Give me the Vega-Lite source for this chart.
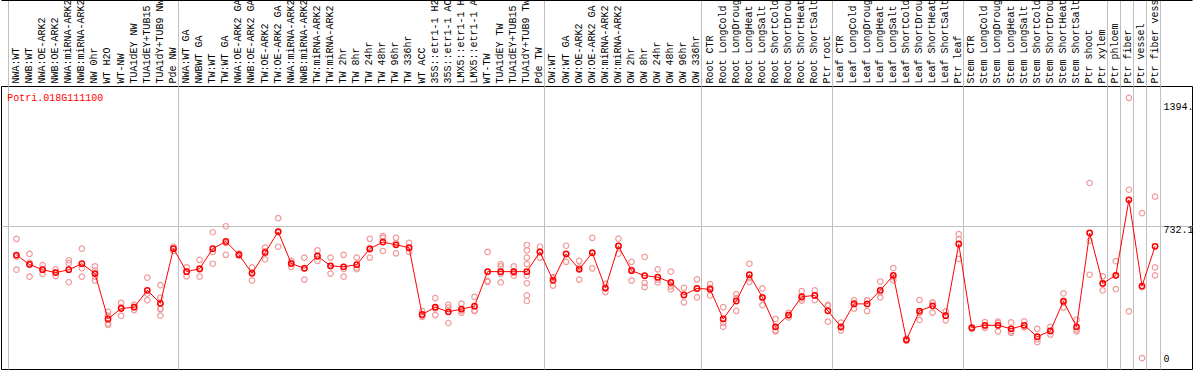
{
  "$schema": "https://vega.github.io/schema/vega-lite/v6.json",
  "width": 1191,
  "height": 283,
  "autosize": {"type": "none"},
  "padding": {"left": 1, "top": 86, "right": 2, "bottom": 1},
  "background": "white",
  "config": {"view": {"stroke": "black", "strokeWidth": 1}, "font": "Liberation Mono"},
  "data": {"values": [
    {"s": "01 NWA:WT", "m": 580, "r": [664, 572, 504]},
    {"s": "02 NWB:WT", "m": 531, "r": [586, 539, 468]},
    {"s": "03 NWA:OE-ARK2", "m": 504, "r": [528, 503, 482]},
    {"s": "04 NWB:OE-ARK2", "m": 489, "r": [506, 490, 471]},
    {"s": "05 NWA:miRNA-ARK2", "m": 504, "r": [553, 538, 439]},
    {"s": "06 NWB:miRNA-ARK2", "m": 535, "r": [613, 512, 468]},
    {"s": "07 NW 0hr", "m": 484, "r": [521, 500, 468, 448]},
    {"s": "08 WT H2O", "m": 249, "r": [286, 266, 226, 218]},
    {"s": "09 WT-NW", "m": 303, "r": [332, 310, 266]},
    {"s": "10 TUA1dEY NW", "m": 310, "r": [323, 312, 295]},
    {"s": "11 TUA1dEY+TUB15", "m": 397, "r": [463, 380, 346]},
    {"s": "12 TUA1dY+TUB9 NW", "m": 330, "r": [424, 359, 330, 303, 266, 300]},
    {"s": "13 Pde NW", "m": 613, "r": [623, 613, 601]},
    {"s": "14 NWA:WT GA", "m": 494, "r": [516, 495, 470]},
    {"s": "15 NWBWT GA", "m": 509, "r": [555, 505, 468]},
    {"s": "16 TW:WT", "m": 613, "r": [698, 596, 535]},
    {"s": "17 TW:WT GA", "m": 650, "r": [729, 642, 581]},
    {"s": "18 NWA:OE-ARK2 GA", "m": 582, "r": [587, 582, 575]},
    {"s": "19 NWB:OE-ARK2 GA", "m": 485, "r": [516, 490, 448]},
    {"s": "20 TW:OE-ARK2", "m": 592, "r": [618, 600, 558]},
    {"s": "21 TW:OE-ARK2 GA", "m": 700, "r": [771, 705, 623]},
    {"s": "22 NWA:miRNA-ARK2", "m": 536, "r": [550, 539, 519]},
    {"s": "23 NWB:miRNA-ARK2", "m": 511, "r": [567, 512, 453]},
    {"s": "24 TW:miRNA-ARK2", "m": 575, "r": [604, 572, 550]},
    {"s": "25 TW:miRNA-ARK2", "m": 524, "r": [567, 522, 484]},
    {"s": "26 TW 2hr", "m": 519, "r": [581, 508, 468]},
    {"s": "27 TW 8hr", "m": 530, "r": [567, 516, 507]},
    {"s": "28 TW 24hr", "m": 613, "r": [664, 608, 567]},
    {"s": "29 TW 48hr", "m": 647, "r": [678, 669, 601]},
    {"s": "30 TW 96hr", "m": 633, "r": [669, 642, 589]},
    {"s": "31 TW 336hr", "m": 618, "r": [643, 615, 596]},
    {"s": "32 WT ACC", "m": 272, "r": [290, 266, 260]},
    {"s": "33 35S::etr1-1 H2", "m": 310, "r": [357, 304, 269]},
    {"s": "34 35S::etr1-1 AC", "m": 286, "r": [322, 308, 228]},
    {"s": "35 LMX5::etr1-1 H", "m": 300, "r": [328, 292, 281]},
    {"s": "36 LMX5::etr1-1 A", "m": 315, "r": [363, 293, 290]},
    {"s": "37 WT-TW", "m": 494, "r": [596, 445, 441]},
    {"s": "38 TUA1dEY TW", "m": 494, "r": [533, 521, 484, 438]},
    {"s": "39 TUA1dEY+TUB15", "m": 494, "r": [521, 494, 488, 473]},
    {"s": "40 TUA1dY+TUB9 TW", "m": 494, "r": [632, 604, 567, 533, 473, 434, 371, 342]},
    {"s": "41 Pde TW", "m": 596, "r": [623, 598, 567]},
    {"s": "42 OW:WT", "m": 449, "r": [465, 460, 422]},
    {"s": "43 OW:WT GA", "m": 586, "r": [628, 585, 545]},
    {"s": "44 OW:OE-ARK2", "m": 506, "r": [550, 515, 453]},
    {"s": "45 OW:OE-ARK2 GA", "m": 591, "r": [669, 594, 511]},
    {"s": "46 OW:miRNA-ARK2", "m": 409, "r": [431, 408, 388]},
    {"s": "47 OW:miRNA-ARK2", "m": 627, "r": [665, 628, 587]},
    {"s": "48 OW 2hr", "m": 499, "r": [545, 505, 448]},
    {"s": "49 OW 8hr", "m": 473, "r": [570, 436, 414]},
    {"s": "50 OW 24hr", "m": 465, "r": [506, 452, 438]},
    {"s": "51 OW 48hr", "m": 438, "r": [494, 418, 402]},
    {"s": "52 OW 96hr", "m": 373, "r": [410, 373, 335]},
    {"s": "53 OW 336hr", "m": 407, "r": [454, 406, 361]},
    {"s": "54 Root CTR", "m": 403, "r": [429, 410, 371]},
    {"s": "55 Root LongCold", "m": 249, "r": [310, 228, 209]},
    {"s": "56 Root LongDroug", "m": 342, "r": [378, 357, 291]},
    {"s": "57 Root LongHeat", "m": 478, "r": [535, 460, 441]},
    {"s": "58 Root LongSalt", "m": 361, "r": [407, 356, 320]},
    {"s": "59 Root ShortCold", "m": 208, "r": [249, 190, 185]},
    {"s": "60 Root ShortDrou", "m": 269, "r": [281, 269, 257]},
    {"s": "61 Root ShortHeat", "m": 364, "r": [393, 356, 344]},
    {"s": "62 Root ShortSalt", "m": 371, "r": [397, 370, 346]},
    {"s": "63 Ptr root", "m": 291, "r": [322, 316, 235]},
    {"s": "64 Leaf CTR", "m": 208, "r": [230, 205, 189]},
    {"s": "65 Leaf LongCold", "m": 327, "r": [346, 332, 303]},
    {"s": "66 Leaf LongDroug", "m": 327, "r": [346, 345, 290]},
    {"s": "67 Leaf LongHeat", "m": 397, "r": [443, 387, 361]},
    {"s": "68 Leaf LongSalt", "m": 475, "r": [512, 464, 449]},
    {"s": "69 Leaf ShortCold", "m": 141, "r": [147, 141, 135]},
    {"s": "70 Leaf ShortDrou", "m": 290, "r": [347, 280, 244]},
    {"s": "71 Leaf ShortHeat", "m": 317, "r": [335, 333, 282]},
    {"s": "72 Leaf ShortSalt", "m": 266, "r": [288, 268, 242]},
    {"s": "73 Ptr leaf", "m": 637, "r": [688, 662, 560]},
    {"s": "74 Stem CTR", "m": 203, "r": [206, 205, 198]},
    {"s": "75 Stem LongCold", "m": 216, "r": [233, 213, 203]},
    {"s": "76 Stem LongDroug", "m": 216, "r": [235, 228, 185]},
    {"s": "77 Stem LongHeat", "m": 198, "r": [231, 186, 177]},
    {"s": "78 Stem LongSalt", "m": 216, "r": [236, 206, 206]},
    {"s": "79 Stem ShortCold", "m": 157, "r": [198, 144, 129]},
    {"s": "80 Stem ShortDrou", "m": 187, "r": [208, 186, 168]},
    {"s": "81 Stem ShortHeat", "m": 341, "r": [381, 334, 308]},
    {"s": "82 Stem ShortSalt", "m": 208, "r": [245, 194, 185]},
    {"s": "83 Ptr shoot", "m": 694, "r": [953, 654, 478]},
    {"s": "84 Ptr xylem", "m": 433, "r": [470, 433, 397]},
    {"s": "85 Ptr phloem", "m": 475, "r": [548, 475, 403]},
    {"s": "86 Ptr fiber", "m": 866, "r": [1394, 918, 288]},
    {"s": "87 Ptr vessel", "m": 419, "r": [797, 414, 46]},
    {"s": "88 Ptr fiber vess", "m": 625, "r": [883, 516, 475]}
  ]},
  "encoding": {
    "x": {
      "field": "s", "type": "nominal", "bandPosition": 0.62,
      "scale": {
        "type": "band",
        "domain": ["01 NWA:WT", "02 NWB:WT", "03 NWA:OE-ARK2", "04 NWB:OE-ARK2", "05 NWA:miRNA-ARK2", "06 NWB:miRNA-ARK2", "07 NW 0hr", "08 WT H2O", "09 WT-NW", "10 TUA1dEY NW", "11 TUA1dEY+TUB15", "12 TUA1dY+TUB9 NW", "13 Pde NW", "14 NWA:WT GA", "15 NWBWT GA", "16 TW:WT", "17 TW:WT GA", "18 NWA:OE-ARK2 GA", "19 NWB:OE-ARK2 GA", "20 TW:OE-ARK2", "21 TW:OE-ARK2 GA", "22 NWA:miRNA-ARK2", "23 NWB:miRNA-ARK2", "24 TW:miRNA-ARK2", "25 TW:miRNA-ARK2", "26 TW 2hr", "27 TW 8hr", "28 TW 24hr", "29 TW 48hr", "30 TW 96hr", "31 TW 336hr", "32 WT ACC", "33 35S::etr1-1 H2", "34 35S::etr1-1 AC", "35 LMX5::etr1-1 H", "36 LMX5::etr1-1 A", "37 WT-TW", "38 TUA1dEY TW", "39 TUA1dEY+TUB15", "40 TUA1dY+TUB9 TW", "41 Pde TW", "42 OW:WT", "43 OW:WT GA", "44 OW:OE-ARK2", "45 OW:OE-ARK2 GA", "46 OW:miRNA-ARK2", "47 OW:miRNA-ARK2", "48 OW 2hr", "49 OW 8hr", "50 OW 24hr", "51 OW 48hr", "52 OW 96hr", "53 OW 336hr", "54 Root CTR", "55 Root LongCold", "56 Root LongDroug", "57 Root LongHeat", "58 Root LongSalt", "59 Root ShortCold", "60 Root ShortDrou", "61 Root ShortHeat", "62 Root ShortSalt", "63 Ptr root", "64 Leaf CTR", "65 Leaf LongCold", "66 Leaf LongDroug", "67 Leaf LongHeat", "68 Leaf LongSalt", "69 Leaf ShortCold", "70 Leaf ShortDrou", "71 Leaf ShortHeat", "72 Leaf ShortSalt", "73 Ptr leaf", "74 Stem CTR", "75 Stem LongCold", "76 Stem LongDroug", "77 Stem LongHeat", "78 Stem LongSalt", "79 Stem ShortCold", "80 Stem ShortDrou", "81 Stem ShortHeat", "82 Stem ShortSalt", "83 Ptr shoot", "84 Ptr xylem", "85 Ptr phloem", "86 Ptr fiber", "87 Ptr vessel", "88 Ptr fiber vess", "89 "],
        "paddingInner": 0, "paddingOuter": 1.2376, "align": 0.2795, "round": false
      },
      "axis": {
        "orient": "top", "offset": 86, "title": null,
        "domain": true, "domainColor": "black", "domainWidth": 1,
        "ticks": true, "tickSize": -86, "tickWidth": 1, "bandPosition": 0,
        "tickColor": {"condition": {"test": "indexof(['01','14','42','54','64','74','85','86','87','88','89'], substring(datum.value, 0, 2)) >= 0", "value": "#c0c0c0"}, "value": "transparent"},
        "grid": true, "gridWidth": 1,
        "gridColor": {"condition": {"test": "indexof(['01','14','42','54','64','74','85','86','87','88','89'], substring(datum.value, 0, 2)) >= 0", "value": "#c0c0c0"}, "value": "transparent"},
        "labelExpr": "substring(datum.label, 3)",
        "labelAngle": -90, "labelAlign": "left", "labelBaseline": "middle",
        "labelFont": "Liberation Mono", "labelFontSize": 10, "labelColor": "black",
        "labelPadding": 3, "labelOffset": 1, "labelLimit": 0,
        "labelOverlap": false, "labelBound": false, "labelFlush": false
      }
    },
    "y": {
      "field": "m", "type": "quantitative",
      "scale": {"domain": [-10.2, 1455.3], "nice": false, "zero": false},
      "axis": {
        "orient": "right", "offset": -36, "title": null,
        "values": [0, 732.1, 1394],
        "domain": false, "ticks": false,
        "labelExpr": "datum.value == 0 ? '0' : (datum.value > 1000 ? '1394.' : '732.1')",
        "labelFont": "Liberation Mono", "labelFontSize": 10, "labelColor": "black",
        "labelPadding": 7, "labelAlign": "left", "labelBaseline": "middle",
        "labelOffset": {"condition": [{"test": "datum.value == 0", "value": -9}, {"test": "datum.value > 1000", "value": 9}], "value": 4},
        "grid": true, "gridWidth": 1,
        "gridColor": {"condition": {"test": "datum.value > 700 && datum.value < 800", "value": "#c0c0c0"}, "value": "transparent"},
        "labelFlush": false, "labelOverlap": false, "labelBound": false
      }
    }
  },
  "layer": [
    {
      "transform": [{"flatten": ["r"]}],
      "mark": {"type": "point", "shape": "circle", "filled": false, "size": 30, "stroke": "#f09a9a", "strokeWidth": 1.2, "opacity": 1},
      "encoding": {
        "y": {"field": "r", "type": "quantitative", "scale": {"domain": [-10.2, 1455.3], "nice": false, "zero": false}}
      }
    },
    {
      "mark": {"type": "line", "color": "#ff0000", "strokeWidth": 1}
    },
    {
      "mark": {"type": "point", "shape": "circle", "filled": false, "size": 28, "stroke": "#ff0000", "strokeWidth": 1.5, "opacity": 1}
    },
    {
      "transform": [{"filter": "datum.s == '01 NWA:WT'"}],
      "mark": {"type": "text", "align": "left", "baseline": "middle", "dx": -1, "color": "#ff0000", "font": "Liberation Mono", "fontSize": 10},
      "encoding": {
        "x": {"field": "s", "type": "nominal", "bandPosition": 0},
        "y": {"datum": 1394},
        "text": {"value": "Potri.018G111100"}
      }
    }
  ]
}
